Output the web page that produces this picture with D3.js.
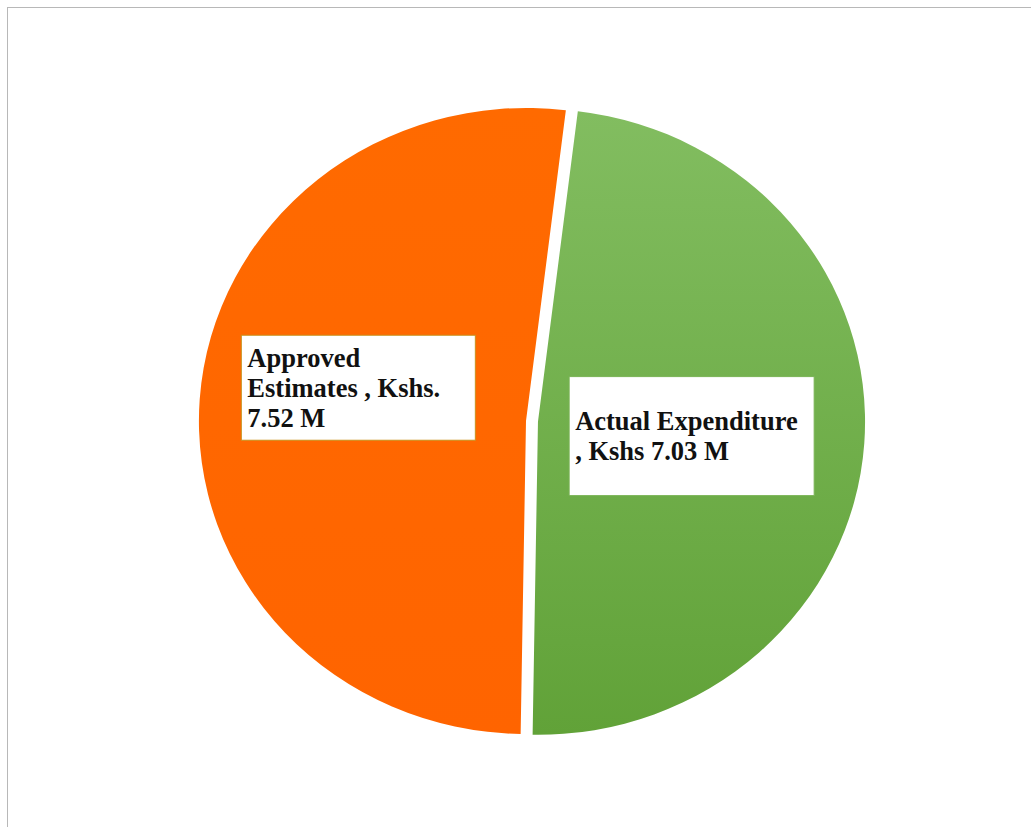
<!DOCTYPE html>
<html>
<head>
<meta charset="utf-8">
<script src="https://cdn.jsdelivr.net/npm/d3@7"></script>
<style>
  body { margin: 0; background: #fff; }
  svg { display: block; }
</style>
</head>
<body>
<div id="chart"></div>
<script>
// data
const labels = ["Actual Expenditure", "Approved Estimates"];
const values = [7.03, 7.52];
const labelLines = [
  ["Actual Expenditure", ", Kshs  7.03 M"],
  ["Approved", "Estimates , Kshs.", "7.52 M"]
];

const width = 1031, height = 827;
const cx = 526, cy = 421;
const radius = 313;
const xStretch = 1.045;

const svg = d3.select("#chart")
  .append("svg")
  .attr("width", width)
  .attr("height", height);

// outer frame
svg.append("rect")
  .attr("x", 7.5).attr("y", 7.5)
  .attr("width", 1100).attr("height", 900)
  .attr("fill", "none")
  .attr("stroke", "#b8b8b8")
  .attr("stroke-width", 1);

const defs = svg.append("defs");
const gGreen = defs.append("linearGradient")
  .attr("id", "gradGreen")
  .attr("x1", 0).attr("y1", 0).attr("x2", 0).attr("y2", 1);
gGreen.append("stop").attr("offset", "0%").attr("stop-color", "#82bd60");
gGreen.append("stop").attr("offset", "100%").attr("stop-color", "#61a238");
const gOrange = defs.append("linearGradient")
  .attr("id", "gradOrange")
  .attr("x1", 0).attr("y1", 0).attr("x2", 0).attr("y2", 1);
gOrange.append("stop").attr("offset", "0%").attr("stop-color", "#ff6a00");
gOrange.append("stop").attr("offset", "100%").attr("stop-color", "#ff6400");

const fills = ["url(#gradGreen)", "url(#gradOrange)"];
const boxStroke = ["#7ab456", "#c9911c"];
const explode = [12, 0];

const startA = 7 * Math.PI / 180;
const pie = d3.pie().sort(null)
  .startAngle(startA)
  .endAngle(startA + 2 * Math.PI);
const arcs = pie(values);

const arc = d3.arc().innerRadius(0).outerRadius(radius);
const labelArc = d3.arc().innerRadius(radius * 0.52).outerRadius(radius * 0.52);

const g = svg.append("g")
  .attr("transform", `translate(${cx},${cy}) scale(${xStretch},1)`);

g.selectAll("path.slice")
  .data(arcs)
  .join("path")
  .attr("class", "slice")
  .attr("d", arc)
  .attr("fill", (d, i) => fills[i])
  .attr("transform", (d, i) => {
    const mid = (d.startAngle + d.endAngle) / 2;
    return `translate(${Math.sin(mid) * explode[i] / xStretch},${-Math.cos(mid) * explode[i]})`;
  });

// label boxes
const boxW = [245, 234], boxH = [119, 105];
const nudge = [[-16, 3], [2, -22]];
const lineH = 30;
arcs.forEach((d, i) => {
  const c = labelArc.centroid(d);
  const mid = (d.startAngle + d.endAngle) / 2;
  const px = cx + c[0] * xStretch + Math.sin(mid) * explode[i] + nudge[i][0];
  const py = cy + c[1] - Math.cos(mid) * explode[i] + nudge[i][1];
  const lg = svg.append("g").attr("transform", `translate(${px},${py})`);
  lg.append("rect")
    .attr("x", -boxW[i] / 2).attr("y", -boxH[i] / 2)
    .attr("width", boxW[i]).attr("height", boxH[i])
    .attr("fill", "#fff")
    .attr("stroke", boxStroke[i])
    .attr("stroke-width", 1);
  const n = labelLines[i].length;
  lg.append("text")
    .attr("font-family", "'Liberation Serif', 'Times New Roman', serif")
    .attr("font-weight", "bold")
    .attr("font-size", 26.5)
    .attr("fill", "#111")
    .selectAll("tspan")
    .data(labelLines[i])
    .join("tspan")
    .attr("x", -boxW[i] / 2 + 6)
    .attr("y", (t, j) => (j - (n - 1) / 2) * lineH + 9)
    .text(t => t);
});
</script>
</body>
</html>
